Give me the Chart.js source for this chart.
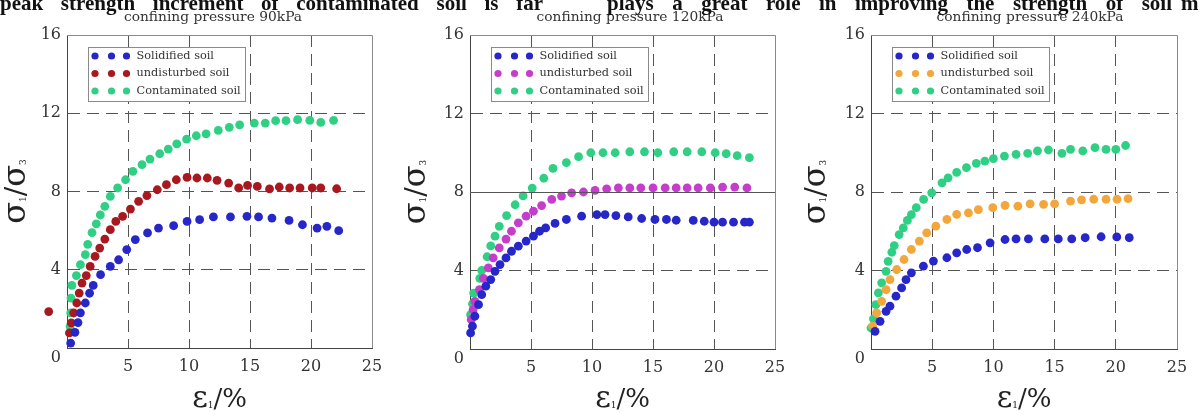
<!DOCTYPE html>
<html>
<head>
<meta charset="utf-8">
<title>Stress ratio vs axial strain</title>
<script src="https://cdn.jsdelivr.net/npm/chart.js@4.4.1/dist/chart.umd.min.js"></script>
<style>
  body { margin: 0; width: 1199px; height: 414px; overflow: hidden; background: #fff; position: relative; }
  canvas { position: absolute; top: 0; }
  .para { position: absolute; top: -7px; font: bold 21px "Liberation Serif", serif; color: #111; white-space: nowrap; z-index: 2; line-height: 21px; }
  #para1 { left: 0; width: 543px; text-align: justify; text-align-last: justify; }
  #para2 { left: 607px; width: 565px; text-align: justify; text-align-last: justify; }
  #para3 { left: 1181px; }
</style>
</head>
<body>
<div class="para" id="para1">peak strength increment of contaminated soil is far</div>
<div class="para" id="para2">plays a great role in improving the strength of soil</div>
<div class="para" id="para3">ma</div>
<canvas id="c90" width="400" height="414" style="left:0"></canvas>
<canvas id="c120" width="400" height="414" style="left:400px"></canvas>
<canvas id="c240" width="399" height="414" style="left:800px"></canvas>
<script>
// axial strain (%) vs principal stress ratio, read per confining pressure
const seriesNames = ["Solidified soil", "undisturbed soil", "Contaminated soil"];
const pressures = ["90kPa", "120kPa", "240kPa"];
const xTickValues = [5, 10, 15, 20, 25];
const yTickValues = [4, 8, 12, 16];

const solidified90 = [[0.3,0.25],[0.65,0.8],[0.9,1.3],[1.1,1.8],[1.5,2.3],[1.85,2.8],[2.15,3.2],[2.75,3.75],[3.55,4.17],[4.23,4.51],[4.9,5.03],[5.6,5.54],[6.6,5.88],[7.5,6.13],[8.74,6.25],[9.84,6.47],[10.87,6.56],[12.0,6.7],[13.4,6.7],[14.75,6.73],[15.7,6.7],[16.8,6.64],[18.2,6.52],[19.3,6.3],[20.5,6.13],[21.3,6.22],[22.27,6.0]];
const undisturbed90 = [[0.2,0.77],[0.35,1.28],[0.55,1.79],[0.8,2.3],[1.0,2.81],[1.23,3.32],[1.58,3.7],[1.9,4.17],[2.3,4.68],[2.68,5.11],[3.1,5.57],[3.55,6.05],[4.0,6.47],[4.56,6.73],[5.2,7.1],[5.87,7.5],[6.55,7.79],[7.4,8.09],[8.15,8.35],[8.96,8.6],[9.84,8.72],[10.65,8.69],[11.5,8.69],[12.3,8.57],[13.25,8.43],[14.07,8.18],[14.8,8.31],[15.6,8.26],[16.6,8.13],[17.4,8.23],[18.25,8.18],[19.1,8.18],[20.1,8.18],[20.8,8.18],[22.1,8.14]];
// stray reading that falls left of the strain axis
const undisturbed90Stray = [[-1.5,1.86]];
const contaminated90 = [[0.25,1.1],[0.3,1.8],[0.33,2.55],[0.4,3.2],[0.77,3.7],[1.1,4.26],[1.5,4.77],[1.7,5.3],[2.05,5.9],[2.4,6.35],[2.73,6.8],[3.1,7.24],[3.55,7.75],[4.15,8.18],[4.8,8.6],[5.4,9.03],[6.15,9.37],[6.8,9.66],[7.6,9.93],[8.3,10.17],[9.0,10.43],[9.8,10.68],[10.6,10.85],[11.4,10.95],[12.4,11.12],[13.3,11.28],[14.15,11.41],[15.35,11.5],[16.25,11.5],[17.1,11.62],[17.95,11.62],[18.9,11.67],[19.9,11.64],[20.8,11.53],[21.85,11.64]];

const solidified120 = [[0.05,0.82],[0.2,1.16],[0.4,1.67],[0.7,2.26],[0.96,2.77],[1.3,3.2],[1.7,3.54],[2.05,3.96],[2.46,4.3],[2.95,4.64],[3.4,4.98],[3.96,5.24],[4.6,5.5],[5.2,5.75],[5.7,6.0],[6.2,6.17],[6.97,6.4],[7.9,6.6],[9.15,6.77],[10.4,6.85],[11.07,6.85],[11.96,6.8],[12.97,6.73],[14.07,6.65],[15.16,6.6],[16.1,6.6],[16.9,6.56],[18.3,6.55],[19.2,6.51],[20.0,6.46],[20.7,6.46],[21.6,6.46],[22.5,6.46],[22.9,6.46]];
const undisturbed120 = [[0.1,1.5],[0.25,2.0],[0.4,2.43],[0.77,3.03],[1.1,3.6],[1.5,4.13],[1.9,4.64],[2.4,5.15],[2.95,5.6],[3.4,6.0],[3.96,6.43],[4.6,6.77],[5.2,7.02],[5.87,7.31],[6.7,7.62],[7.5,7.79],[8.33,7.96],[9.3,8.0],[10.25,8.08],[11.2,8.16],[12.16,8.21],[13.1,8.21],[14.0,8.21],[15.0,8.21],[16.0,8.21],[16.9,8.21],[17.8,8.21],[18.7,8.21],[19.7,8.21],[20.7,8.25],[21.7,8.25],[22.7,8.21]];
const contaminated120 = [[0.05,1.75],[0.2,2.3],[0.3,2.85],[0.8,3.6],[0.96,4.0],[1.4,4.7],[1.7,5.25],[2.05,5.75],[2.4,6.25],[3.0,6.8],[3.7,7.35],[4.35,7.8],[5.1,8.2],[6.05,8.7],[6.8,9.2],[7.9,9.5],[8.9,9.8],[9.9,10.0],[10.9,10.0],[11.9,10.0],[13.1,10.05],[14.3,10.05],[15.4,10.0],[16.7,10.05],[17.8,10.05],[19.0,10.05],[20.1,10.0],[21.0,9.95],[21.9,9.85],[22.9,9.75]];

const solidified240 = [[0.33,0.9],[0.74,1.41],[1.23,1.92],[1.55,2.18],[2.04,2.69],[2.5,3.11],[2.86,3.54],[3.3,3.88],[4.28,4.22],[5.1,4.48],[6.2,4.65],[7.0,4.9],[7.82,5.07],[8.7,5.16],[9.73,5.41],[10.95,5.58],[11.85,5.61],[12.86,5.61],[14.2,5.61],[15.3,5.61],[16.4,5.61],[17.5,5.67],[18.8,5.72],[20.08,5.71],[21.1,5.67]];
const undisturbed240 = [[0.14,1.16],[0.46,1.84],[0.87,2.43],[1.23,3.03],[1.55,3.54],[2.1,4.05],[2.7,4.56],[3.3,5.07],[3.95,5.5],[4.55,5.92],[5.3,6.26],[6.2,6.6],[7.0,6.86],[7.96,6.94],[8.77,7.1],[9.95,7.2],[10.95,7.32],[12.0,7.28],[13.0,7.4],[14.1,7.37],[15.0,7.4],[16.3,7.54],[17.2,7.6],[18.2,7.63],[19.2,7.63],[20.1,7.63],[21.0,7.66]];
const contaminated240 = [[0.0,1.07],[0.2,1.53],[0.4,2.26],[0.6,2.86],[0.87,3.37],[1.23,3.96],[1.4,4.47],[1.7,4.93],[1.9,5.27],[2.3,5.83],[2.64,6.17],[2.97,6.55],[3.3,6.85],[3.7,7.2],[4.3,7.62],[4.96,7.96],[5.8,8.47],[6.3,8.72],[7.0,9.0],[7.8,9.24],[8.6,9.46],[9.3,9.57],[10.0,9.7],[10.9,9.83],[11.85,9.92],[12.8,9.97],[13.6,10.09],[14.5,10.14],[15.6,9.97],[16.3,10.17],[17.3,10.09],[18.3,10.26],[19.2,10.17],[20.0,10.17],[20.8,10.37]];

const SERIF = '"DejaVu Serif", "Liberation Serif", serif';
const BLUE = '#2626c9';
const GREEN = '#2fcf84';
const DOT = 4.4;

const panels = [
  { id: 'c90',  width: 400, area: { left: 67, right: 372, top: 35, bottom: 348 }, titleX: 213,
    series: [solidified90, undisturbed90, contaminated90], colors: [BLUE, '#a8181f', GREEN],
    solidLine: null, stray: undisturbed90Stray },
  { id: 'c120', width: 400, area: { left: 70, right: 375, top: 35, bottom: 349 }, titleX: 230,
    series: [solidified120, undisturbed120, contaminated120], colors: [BLUE, '#c53dcb', GREEN],
    solidLine: 8, stray: [] },
  { id: 'c240', width: 399, area: { left: 71, right: 377, top: 35, bottom: 349 }, titleX: 230,
    series: [solidified240, undisturbed240, contaminated240], colors: [BLUE, '#f2a63b', GREEN],
    solidLine: null, stray: [] }
];

// draws a run of text pieces (with subscripts) centred on cx
function drawRich(ctx, parts, cx, baseY) {
  let total = 0;
  parts.forEach(p => {
    ctx.font = p.size + 'px ' + SERIF;
    p.w = ctx.measureText(p.t).width;
    total += p.w;
  });
  let x = cx - total / 2;
  ctx.textAlign = 'left';
  ctx.textBaseline = 'alphabetic';
  parts.forEach(p => {
    ctx.font = p.size + 'px ' + SERIF;
    ctx.fillText(p.t, x, baseY + (p.dy || 0));
    x += p.w;
  });
}

const panelDecor = {
  id: 'panelDecor',
  afterDatasetsDraw(chart, args, opts) {
    const { ctx, chartArea: a, scales } = chart;
    ctx.save();

    if (opts.solidLine != null) {
      const y = Math.round(scales.y.getPixelForValue(opts.solidLine)) + 0.5;
      ctx.strokeStyle = '#555';
      ctx.lineWidth = 1;
      ctx.beginPath();
      ctx.moveTo(a.left, y);
      ctx.lineTo(a.right, y);
      ctx.stroke();
    }

    // points outside the plot area are skipped by Chart.js, so place them here
    ctx.fillStyle = chart.data.datasets[1].backgroundColor;
    opts.stray.forEach(([x, y]) => {
      ctx.beginPath();
      ctx.arc(scales.x.getPixelForValue(x), scales.y.getPixelForValue(y), DOT, 0, Math.PI * 2);
      ctx.fill();
    });

    // top and right edges of the frame
    ctx.strokeStyle = '#8a8a8a';
    ctx.lineWidth = 1;
    ctx.beginPath();
    ctx.moveTo(a.left, a.top + 0.5);
    ctx.lineTo(a.right + 0.5, a.top + 0.5);
    ctx.lineTo(a.right + 0.5, a.bottom);
    ctx.stroke();

    // legend box
    const bx = a.left + 21, by = a.top + 12, bw = 157, bh = 54;
    ctx.fillStyle = '#fff';
    ctx.fillRect(bx, by, bw, bh);
    ctx.strokeStyle = '#8a8a8a';
    ctx.strokeRect(bx + 0.5, by + 0.5, bw, bh);
    chart.data.datasets.forEach((ds, i) => {
      const ry = by + 9 + i * 17.5;
      ctx.fillStyle = ds.backgroundColor;
      [7, 23.5, 38.5].forEach(dx => {
        ctx.beginPath();
        ctx.arc(bx + dx, ry, 3.6, 0, Math.PI * 2);
        ctx.fill();
      });
      ctx.fillStyle = '#333';
      ctx.font = '11.3px ' + SERIF;
      ctx.textAlign = 'left';
      ctx.textBaseline = 'middle';
      ctx.fillText(ds.label, bx + 48.5, ry);
    });

    // panel title
    ctx.fillStyle = '#333';
    ctx.font = '13.8px ' + SERIF;
    ctx.textAlign = 'center';
    ctx.textBaseline = 'middle';
    ctx.fillText(opts.title, opts.titleX, 17);

    // origin label sits below the corner
    ctx.font = '16px ' + SERIF;
    ctx.textAlign = 'right';
    ctx.fillText('0', a.left - 6, a.bottom + 10);

    // axis titles
    ctx.fillStyle = '#222';
    drawRich(ctx, [
      { t: 'ε', size: 30 }, { t: '1', size: 9, dy: 1 }, { t: '/%', size: 26 }
    ], (a.left + a.right) / 2, 407);

    ctx.translate(17, (a.top + a.bottom) / 2);
    ctx.rotate(-Math.PI / 2);
    drawRich(ctx, [
      { t: 'σ', size: 32 }, { t: '1', size: 9, dy: 1 }, { t: '/', size: 28 },
      { t: 'σ', size: 32 }, { t: '3', size: 9, dy: 1 }
    ], 0, 8);

    ctx.restore();
  }
};

pressures.forEach((p, k) => {
  const cfg = panels[k];
  const a = cfg.area;
  new Chart(document.getElementById(cfg.id), {
    type: 'scatter',
    data: {
      datasets: cfg.series.map((pts, i) => ({
        label: seriesNames[i],
        data: pts.map(([x, y]) => ({ x, y })),
        backgroundColor: cfg.colors[i],
        borderColor: cfg.colors[i],
        borderWidth: 0,
        pointRadius: DOT,
        clip: false
      }))
    },
    options: {
      responsive: false,
      animation: false,
      layout: { padding: { left: 0, top: a.top, right: cfg.width - a.right, bottom: 414 - a.bottom - 40 } },
      plugins: {
        legend: { display: false },
        tooltip: { enabled: false },
        panelDecor: { title: 'confining pressure ' + p, titleX: cfg.titleX, solidLine: cfg.solidLine, stray: cfg.stray }
      },
      scales: {
        x: {
          type: 'linear', min: 0, max: 25,
          afterBuildTicks: s => { s.ticks = xTickValues.map(v => ({ value: v })); },
          afterFit: s => { s.height = 40; },
          ticks: { color: '#333', font: { family: SERIF, size: 16 }, padding: 9 },
          grid: {
            drawTicks: false,
            color: c => (c.tick && c.tick.value === 25) ? 'rgba(0,0,0,0)' : '#555'
          },
          border: { color: '#444', width: 1, dash: [12, 7] }
        },
        y: {
          type: 'linear', min: 0, max: 16,
          afterBuildTicks: s => { s.ticks = yTickValues.map(v => ({ value: v })); },
          afterFit: s => { s.width = a.left; },
          ticks: { color: '#333', font: { family: SERIF, size: 16 }, padding: 6 },
          grid: {
            drawTicks: false,
            color: c => (c.tick && (c.tick.value === 16 || (cfg.solidLine === c.tick.value))) ? 'rgba(0,0,0,0)' : '#555'
          },
          border: { color: '#444', width: 1, dash: [12, 7] }
        }
      }
    },
    plugins: [panelDecor]
  });
});
</script>
</body>
</html>
